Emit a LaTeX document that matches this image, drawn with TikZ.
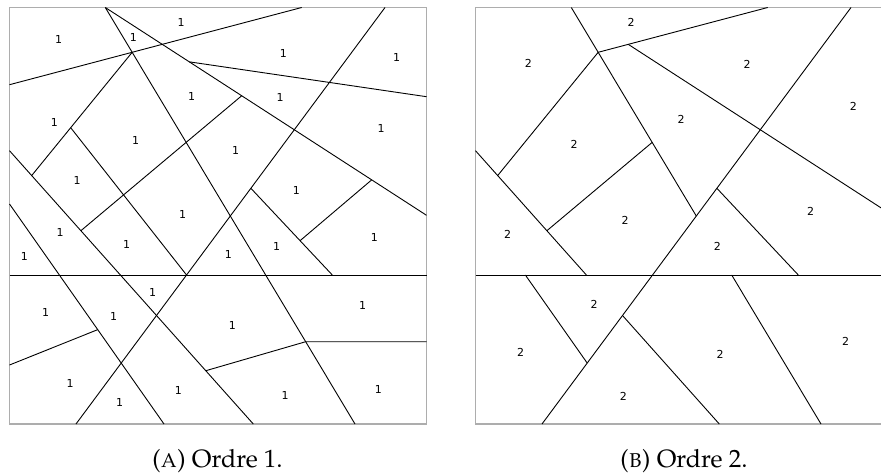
\documentclass[tikz,border=0pt]{standalone}
\usepackage[T1,TU]{fontenc}
\usepackage{fontspec}
\newfontfamily\lblfont{DejaVu Sans}
\newcommand\palfont{\fontencoding{T1}\fontfamily{ppl}\selectfont}
\tikzset{
  seg/.style={line width=0.9pt, draw=black},
  frame/.style={draw=black!32, line width=1.1pt},
  num/.style={font=\lblfont\fontsize{11}{13}\selectfont, inner sep=0pt},
  captext/.style={font=\palfont\fontsize{25}{29}\selectfont, inner sep=0pt, anchor=base}
}
\newcommand\panelpts{%
  \coordinate (TL) at (9.5,7.5);
  \coordinate (BR) at (426.5,424);
  \coordinate (A1) at (9.5,84.7);  \coordinate (A2) at (301.7,7.5);
  \coordinate (B1) at (105.3,7.5); \coordinate (B2) at (355,424);
  \coordinate (C2) at (426.5,215.3);
  \coordinate (E1) at (385,7.5);   \coordinate (E2) at (76,424);
  \coordinate (G1) at (9.5,150.7); \coordinate (G2) at (253.3,424);
  \coordinate (Q1) at (9.5,204);   \coordinate (Q2) at (164,424);
  \coordinate (H1) at (9.5,275);   \coordinate (H2) at (426.5,275);
  \coordinate (AB) at (intersection of A1--A2 and B1--B2);
  \coordinate (AC) at (intersection of A1--A2 and B1--C2);
  \coordinate (Fd) at (32.7,174.3);
  \coordinate (FG) at (intersection of AB--Fd and G1--G2);
  \coordinate (EH) at (intersection of E1--E2 and H1--H2);
  \coordinate (FH) at (intersection of AB--FG and {(0,127.7)}--{(400,127.7)});
  \coordinate (CI) at (intersection of B1--C2 and {(241.7,0)}--{(241.7,400)});
  \coordinate (Id) at (81.7,230);
  \coordinate (IG) at (intersection of CI--Id and G1--G2);
  \coordinate (IB) at (intersection of CI--Id and B1--B2);
  \coordinate (EJ) at (intersection of E1--E2 and {(0,188.3)}--{(400,188.3)});
  \coordinate (J2) at (332.3,275);
  \coordinate (CK) at (intersection of B1--C2 and {(371.7,0)}--{(371.7,400)});
  \coordinate (Kd) at (300,240.7);
  \coordinate (KJ) at (intersection of CK--Kd and EJ--J2);
  \coordinate (CD) at (intersection of B1--C2 and {(189.3,0)}--{(189.3,400)});
  \coordinate (D2) at (426.5,96.7);
  \coordinate (GL) at (intersection of G1--G2 and {(0,370.7)}--{(400,370.7)});
  \coordinate (BM) at (intersection of B1--B2 and {(0,341.7)}--{(400,341.7)});
  \coordinate (M2) at (426.5,341.7);
  \coordinate (N1) at (9.5,365);   \coordinate (Nd) at (96.7,330);
  \coordinate (NQ) at (intersection of N1--Nd and Q1--Q2);
  \coordinate (BE) at (intersection of B1--B2 and E1--E2);
  \coordinate (GH) at (intersection of G1--G2 and H1--H2);
  \coordinate (QH) at (intersection of Q1--Q2 and H1--H2);
  \coordinate (QE) at (intersection of Q1--Q2 and E1--E2);
  \coordinate (GE) at (intersection of G1--G2 and E1--E2);
  \coordinate (BH) at (intersection of B1--B2 and H1--H2);
}
\begin{document}
\begin{tikzpicture}[x=1pt,y=-1pt]
\useasboundingbox (0,0) rectangle (881,476);
% ---------- panel A ----------
\begin{scope}
  \panelpts
  \draw[frame] (TL) rectangle (BR);
  \draw[seg] (A1) -- (A2);
  \draw[seg] (B1) -- (B2);
  \draw[seg] (B1) -- (C2);
  \draw[seg] (CD) -- (D2);
  \draw[seg] (E1) -- (E2);
  \draw[seg] (AB) -- (FG);
  \draw[seg] (G1) -- (G2);
  \draw[seg] (Q1) -- (Q2);
  \draw[seg] (FH) -- (EH);
  \draw[seg] (CI) -- (IG);
  \draw[seg] (EJ) -- (J2);
  \draw[seg] (CK) -- (KJ);
  \draw[seg] (H1) -- (H2);
  \draw[seg] (GL) -- (BM) -- (M2);
  \draw[seg] (N1) -- (NQ);
\end{scope}
\node[num] (a01) at (58.7,39) {1};
\node[num] (a02) at (133.3,37.7) {1};
\node[num] (a03) at (181,22.7) {1};
\node[num] (a04) at (191.7,96.7) {1};
\node[num] (a05) at (54.3,122.7) {1};
\node[num] (a06) at (135.7,140.7) {1};
\node[num] (a07) at (77,180) {1};
\node[num] (a08) at (182.7,214.3) {1};
\node[num] (a09) at (283.3,53.3) {1};
\node[num] (a10) at (396.7,57.7) {1};
\node[num] (a11) at (280,97.7) {1};
\node[num] (a12) at (381,128.3) {1};
\node[num] (a13) at (235.7,150.7) {1};
\node[num] (a14) at (296.3,190.7) {1};
\node[num] (a15) at (60,232.7) {1};
\node[num] (a16) at (24.3,256.7) {1};
\node[num] (a17) at (126.7,244.3) {1};
\node[num] (a18) at (228.3,254.3) {1};
\node[num] (a19) at (276.7,246.7) {1};
\node[num] (a20) at (374.3,237.3) {1};
\node[num] (a21) at (152.7,292.7) {1};
\node[num] (a22) at (45.7,312.7) {1};
\node[num] (a23) at (113.7,316) {1};
\node[num] (a24) at (232.3,325) {1};
\node[num] (a25) at (362.7,305.7) {1};
\node[num] (a26) at (70,383.3) {1};
\node[num] (a27) at (119.7,402.7) {1};
\node[num] (a28) at (178.3,390.7) {1};
\node[num] (a29) at (285,395.7) {1};
\node[num] (a30) at (378.3,389) {1};
% ---------- panel B ----------
\begin{scope}
  \clip (0,0) rectangle (881,476);
  \begin{scope}[xshift=466pt]
    \panelpts
    \draw[frame] (TL) rectangle (BR);
    \draw[seg] (AB) -- (A2);
    \draw[seg] (B1) -- (BE);
    \draw[seg] (AC) -- (C2);
    \draw[seg] (AB) -- (FG);
    \draw[seg] (G1) -- (GH);
    \draw[seg] (IB) -- (IG);
    \draw[seg] (E1) -- (E2);
    \draw[seg] (EJ) -- (J2);
    \draw[seg] (H1) -- (H2);
    \draw[seg] (QH) -- (QE);
    \draw[seg] (GE) -- (G2);
    \draw[seg] (BH) -- (B2);
  \end{scope}
\end{scope}
\node[num] (b01) at (631,22.7) {2};
\node[num] (b02) at (528.3,63.3) {2};
\node[num] (b03) at (574,144.3) {2};
\node[num] (b04) at (625,220) {2};
\node[num] (b05) at (507.7,234.3) {2};
\node[num] (b06) at (747,64.3) {2};
\node[num] (b07) at (853.3,106) {2};
\node[num] (b08) at (681,119.3) {2};
\node[num] (b09) at (810.7,211.7) {2};
\node[num] (b10) at (594,304) {2};
\node[num] (b11) at (520.7,352.7) {2};
\node[num] (b12) at (623.3,396.7) {2};
\node[num] (b13) at (717.3,246.7) {2};
\node[num] (b14) at (720,354.3) {2};
\node[num] (b15) at (845.7,341.7) {2};
% ---------- captions ----------
\node[captext] (capA) at (217.5,467.3) {(\textsc{a}) Ordre 1.};
\node[captext] (capB) at (684,467.3) {(\textsc{b}) Ordre 2.};
\end{tikzpicture}
\end{document}
